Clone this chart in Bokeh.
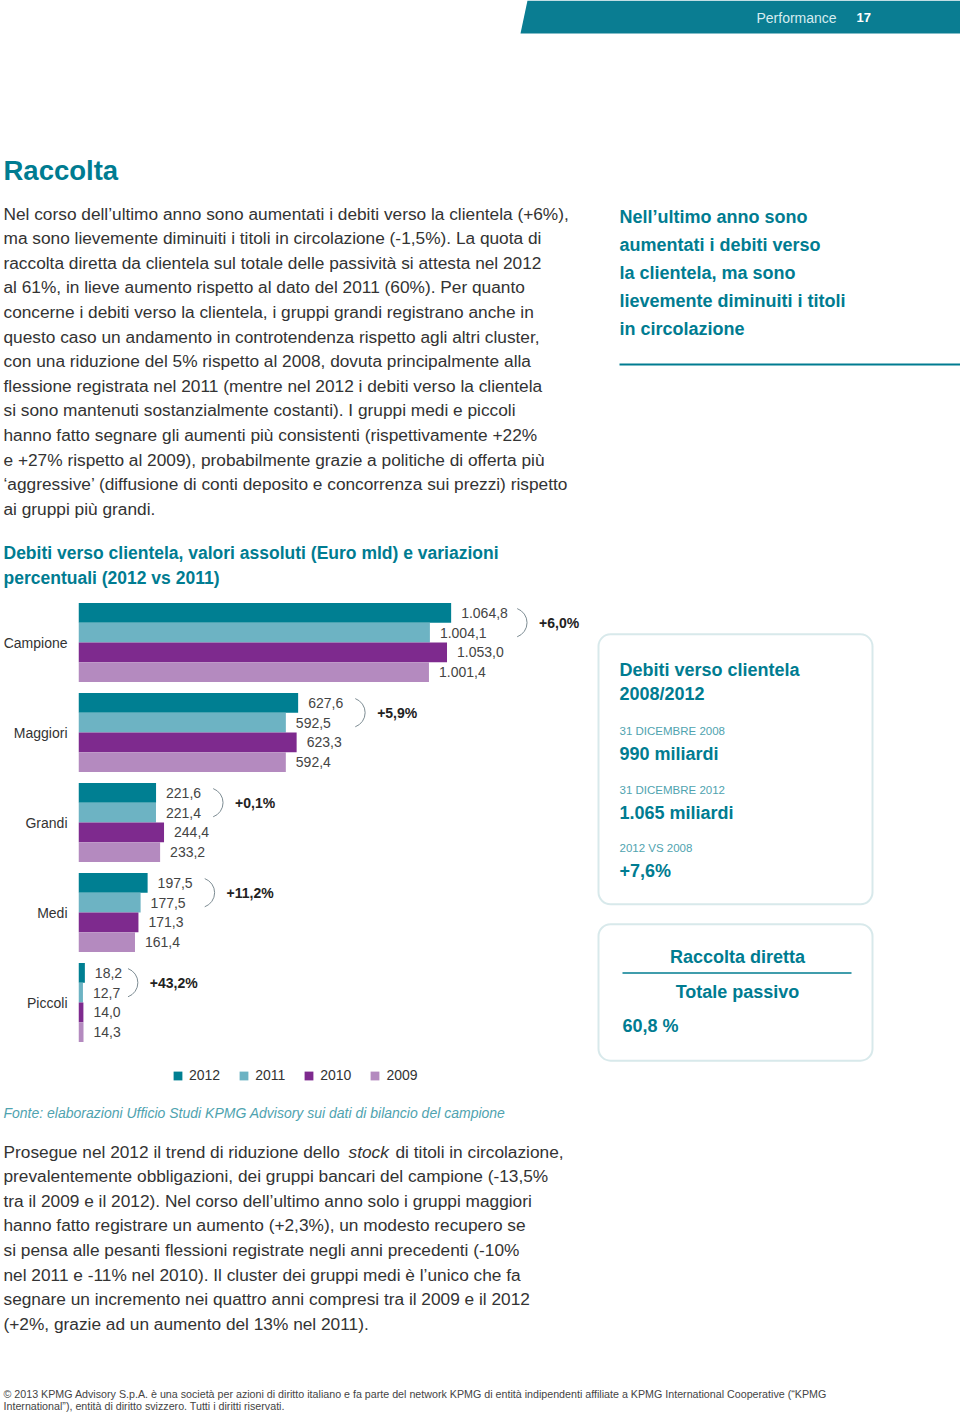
from bokeh.plotting import figure
from bokeh.layouts import column, row
from bokeh.models import Range1d, BoxAnnotation, Legend, LegendItem, ColumnDataSource, FixedTicker
from bokeh.transform import dodge
from bokeh.core.properties import value
from bokeh.embed import file_html
from bokeh.resources import INLINE

# ---------------- data ----------------
categories = ["Campione", "Maggiori", "Grandi", "Medi", "Piccoli"]
years = ["2012", "2011", "2010", "2009"]
values_2012 = [1064.8, 627.6, 221.6, 197.5, 18.2]
values_2011 = [1004.1, 592.5, 221.4, 177.5, 12.7]
values_2010 = [1053.0, 623.3, 244.4, 171.3, 14.0]
values_2009 = [1001.4, 592.4, 233.2, 161.4, 14.3]
change_2012_vs_2011 = ["+6,0%", "+5,9%", "+0,1%", "+11,2%", "+43,2%"]

# ---------------- style ----------------
TEAL = "#007C91"
TEAL_LIGHT = "#4FA3AF"
BOX_LINE = "#7DB5BE"
YEAR_COLORS = {"2012": "#007F92", "2011": "#6DB3C3", "2010": "#7E2A8E", "2009": "#B48ABF"}
BODY_COLOR = "#333333"
BODY = "Liberation Sans"
BODY_SIZE = 17.3


def it_num(v):
    s = f"{v:,.1f}"
    return s.replace(",", "X").replace(".", ",").replace("X", ".")


def page_fig(w, h, x0, x1, y_top, y_bottom):
    p = figure(width=w, height=h, x_range=Range1d(x0, x1), y_range=Range1d(y_bottom, y_top),
               output_backend="svg", toolbar_location=None, min_border=0,
               x_axis_location=None, y_axis_location=None)
    p.grid.visible = False
    p.outline_line_color = None
    return p


def put(p, xs, ys, texts, size, color, font=BODY, style="normal", align="left"):
    p.text(x=xs, y=ys, text=texts, text_font=value(font), text_font_size=f"{size}px",
           text_color=color, text_font_style=style, text_align=align, text_baseline="middle")


# ---------------- top part ----------------
top = page_fig(960, 595, 0, 960, 0, 595)
top.patch([527, 960, 960, 520], [0, 0, 33, 33], fill_color="#0A7D92", line_color=None)
put(top, [756], [17], ["Performance"], 14, "#D6ECF0")
put(top, [856], [17], ["17"], 13, "#FFFFFF", style="bold")
put(top, [3], [170], ["Raccolta"], 27.5, TEAL, style="bold")

para1 = [
    "Nel corso dell\u2019ultimo anno sono aumentati i debiti verso la clientela (+6%),",
    "ma sono lievemente diminuiti i titoli in circolazione (-1,5%). La quota di",
    "raccolta diretta da clientela sul totale delle passivit\u00e0 si attesta nel 2012",
    "al 61%, in lieve aumento rispetto al dato del 2011 (60%). Per quanto",
    "concerne i debiti verso la clientela, i gruppi grandi registrano anche in",
    "questo caso un andamento in controtendenza rispetto agli altri cluster,",
    "con una riduzione del 5% rispetto al 2008, dovuta principalmente alla",
    "flessione registrata nel 2011 (mentre nel 2012 i debiti verso la clientela",
    "si sono mantenuti sostanzialmente costanti). I gruppi medi e piccoli",
    "hanno fatto segnare gli aumenti pi\u00f9 consistenti (rispettivamente +22%",
    "e +27% rispetto al 2009), probabilmente grazie a politiche di offerta pi\u00f9",
    "\u2018aggressive\u2019 (diffusione di conti deposito e concorrenza sui prezzi) rispetto",
    "ai gruppi pi\u00f9 grandi.",
]
put(top, [3] * len(para1), [213 + 24.6 * i for i in range(len(para1))], para1, BODY_SIZE, BODY_COLOR)

quote = ["Nell\u2019ultimo anno sono", "aumentati i debiti verso", "la clientela, ma sono",
         "lievemente diminuiti i titoli", "in circolazione"]
put(top, [619] * len(quote), [216 + 28.1 * i for i in range(len(quote))], quote, 18, TEAL, style="bold")
top.line([619, 960], [364, 364], line_color=TEAL, line_width=2)

chart_title = ["Debiti verso clientela, valori assoluti (Euro mld) e variazioni",
               "percentuali (2012 vs 2011)"]
put(top, [3, 3], [552, 577], chart_title, 17.5, TEAL, style="bold")

# ---------------- chart ----------------
FRAME_LEFT = 78
FRAME_W = 512
FRAME_H = 496
GROUP_PX = 90
X_MAX = 1463.0
UPP = X_MAX / FRAME_W  # data units per pixel
LABEL_OFFSET = 10

positions = list(range(len(categories)))  # category index, top to bottom
labels = {yr: [it_num(v) for v in vals] for yr, vals in
          zip(years, [values_2012, values_2011, values_2010, values_2009])}
# bracket sits just past the longer of the 2012 / 2011 bars and their labels
bracket_x = [max(a, b) + (max(52, LABEL_OFFSET + 6.7 * len(lab) + 4) if len(lab) > 4 else 38) * UPP
             for a, b, lab in zip(values_2012, values_2011, labels["2012"])]

src = ColumnDataSource(dict(
    cat=categories, pos=positions,
    v2012=values_2012, v2011=values_2011, v2010=values_2010, v2009=values_2009,
    l2012=labels["2012"], l2011=labels["2011"], l2010=labels["2010"], l2009=labels["2009"],
    bx=bracket_x, pct=change_2012_vs_2011,
))

chart = figure(width=FRAME_LEFT + FRAME_W, height=FRAME_H + 2,
               y_range=Range1d(-0.5 + FRAME_H / GROUP_PX, -0.5),
               x_range=Range1d(0, X_MAX), output_backend="svg", toolbar_location=None,
               min_border=0, min_border_left=FRAME_LEFT, min_border_top=2, min_border_bottom=0,
               x_axis_location=None)
chart.grid.visible = False
chart.outline_line_color = None
chart.yaxis.ticker = FixedTicker(ticks=positions)
chart.yaxis.major_label_overrides = {p: c for p, c in zip(positions, categories)}
chart.yaxis.axis_line_color = None
chart.yaxis.major_tick_line_color = None
chart.yaxis.minor_tick_line_color = None
chart.yaxis.major_tick_out = 0
chart.yaxis.major_tick_in = 0
chart.yaxis.major_label_standoff = 11
chart.yaxis.major_label_text_font = BODY
chart.yaxis.major_label_text_font_size = "14px"
chart.yaxis.major_label_text_color = BODY_COLOR

offsets = {"2012": -0.33, "2011": -0.11, "2010": 0.11, "2009": 0.33}
items = []
for yr in years:
    r = chart.hbar(y=dodge("pos", offsets[yr]), left=0, right=f"v{yr}",
                   height=0.22, fill_color=YEAR_COLORS[yr], line_color=None, source=src)
    chart.text(x=f"v{yr}", y=dodge("pos", offsets[yr]), text=f"l{yr}",
               x_offset=LABEL_OFFSET, text_font=value(BODY), text_font_size="14px",
               text_color="#444444", text_baseline="middle", source=src)
    items.append(LegendItem(label=yr, renderers=[r]))

chart.arc(x="bx", y=dodge("pos", -0.22), radius=15, radius_units="screen",
          start_angle=-70, end_angle=70, start_angle_units="deg", end_angle_units="deg",
          line_color="#7D8C93", line_width=1, source=src)
chart.text(x="bx", y=dodge("pos", -0.22), text="pct", x_offset=27,
           text_font=value(BODY), text_font_size="14px", text_font_style="bold",
           text_color="#222222", text_baseline="middle", source=src)

legend = Legend(items=items, orientation="horizontal", location=(94, 10),
                glyph_width=11, glyph_height=11, label_standoff=6, spacing=18,
                padding=0, margin=0, border_line_color=None, background_fill_alpha=0,
                label_text_font=BODY, label_text_font_size="14px", label_text_color=BODY_COLOR)
chart.add_layout(legend)

# ---------------- right boxes ----------------
side = page_fig(370, 498, 590, 960, 595, 1093)
side.add_layout(BoxAnnotation(left=598, right=872, top=632, bottom=903, fill_alpha=0,
                              line_color=BOX_LINE, line_width=2, border_radius=12))
side.add_layout(BoxAnnotation(left=598, right=872, top=923, bottom=1060, fill_alpha=0,
                              line_color=BOX_LINE, line_width=2, border_radius=12))
put(side, [619, 619], [668, 692], ["Debiti verso clientela", "2008/2012"], 18, TEAL, style="bold")
put(side, [619, 619, 619], [729, 788, 847], ["31 DICEMBRE 2008", "31 DICEMBRE 2012", "2012 VS 2008"],
    11.5, TEAL_LIGHT)
put(side, [619, 619, 619], [752, 811, 870], ["990 miliardi", "1.065 miliardi", "+7,6%"],
    18, TEAL, style="bold")
put(side, [737, 737], [956, 991], ["Raccolta diretta", "Totale passivo"], 18, TEAL,
    style="bold", align="center")
side.line([622, 851], [972, 972], line_color=TEAL, line_width=1.5)
put(side, [622], [1025], ["60,8 %"], 18, TEAL, style="bold")

# ---------------- bottom part ----------------
bottom = page_fig(960, 320, 0, 960, 1093, 1413)
put(bottom, [3], [1112], ["Fonte: elaborazioni Ufficio Studi KPMG Advisory sui dati di bilancio del campione"],
    14, TEAL_LIGHT, style="italic")

para2 = [
    "prevalentemente obbligazioni, dei gruppi bancari del campione (-13,5%",
    "tra il 2009 e il 2012). Nel corso dell\u2019ultimo anno solo i gruppi maggiori",
    "hanno fatto registrare un aumento (+2,3%), un modesto recupero se",
    "si pensa alle pesanti flessioni registrate negli anni precedenti (-10%",
    "nel 2011 e -11% nel 2010). Il cluster dei gruppi medi \u00e8 l\u2019unico che fa",
    "segnare un incremento nei quattro anni compresi tra il 2009 e il 2012",
    "(+2%, grazie ad un aumento del 13% nel 2011).",
]
put(bottom, [3], [1151], ["Prosegue nel 2012 il trend di riduzione dello"], BODY_SIZE, BODY_COLOR)
put(bottom, [348], [1151], ["stock"], BODY_SIZE, BODY_COLOR, style="italic")
put(bottom, [395], [1151], ["di titoli in circolazione,"], BODY_SIZE, BODY_COLOR)
put(bottom, [3] * len(para2), [1175.6 + 24.6 * i for i in range(len(para2))], para2, BODY_SIZE, BODY_COLOR)

footer = [
    "\u00a9 2013 KPMG Advisory S.p.A. \u00e8 una societ\u00e0 per azioni di diritto italiano e fa parte del network KPMG di entit\u00e0 indipendenti affiliate a KPMG International Cooperative (\u201cKPMG",
    "International\u201d), entit\u00e0 di diritto svizzero. Tutti i diritti riservati.",
]
put(bottom, [3, 3], [1393, 1405], footer, 10.7, "#444444")

layout = column(top, row(chart, side), bottom)
open("out.html", "w").write(file_html(layout, INLINE))
